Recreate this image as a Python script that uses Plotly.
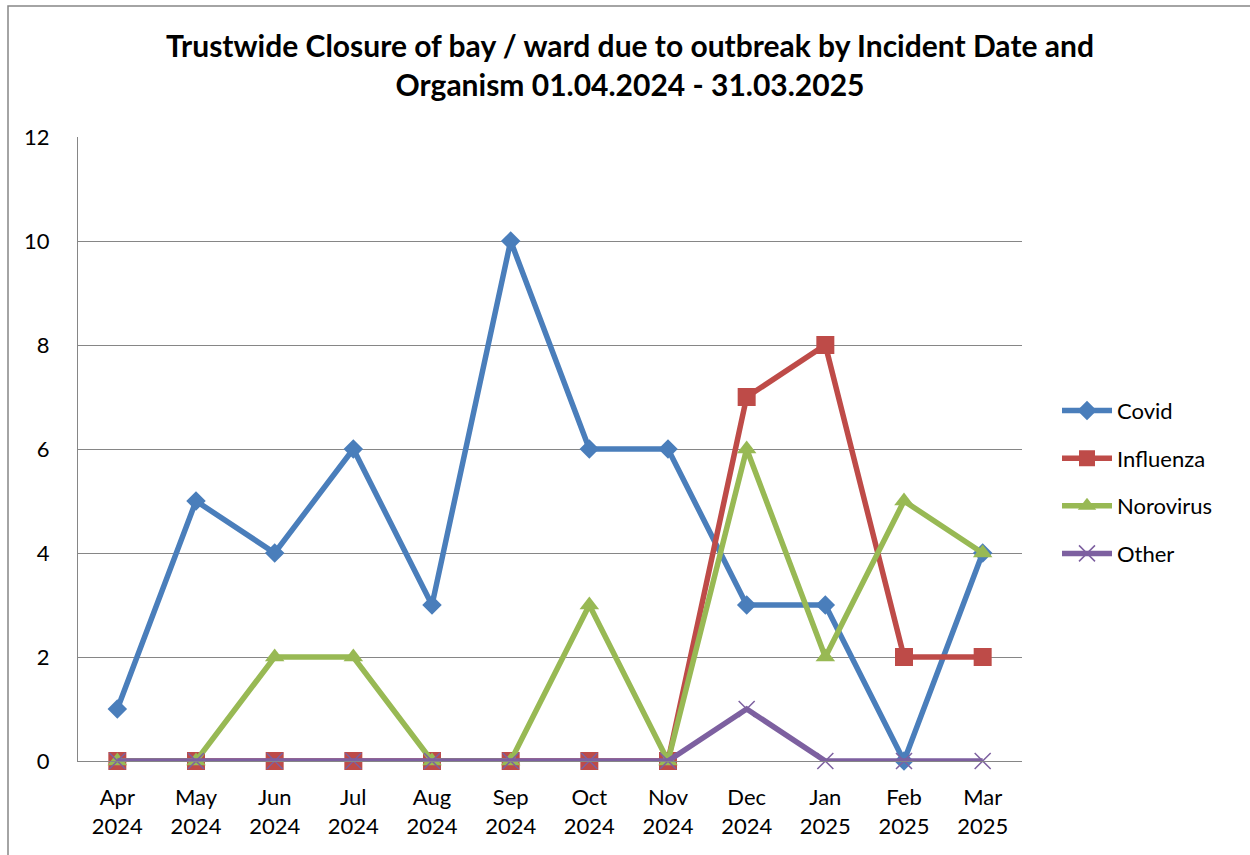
import plotly.graph_objects as go

months = ["Apr<br>2024", "May<br>2024", "Jun<br>2024", "Jul<br>2024", "Aug<br>2024", "Sep<br>2024",
          "Oct<br>2024", "Nov<br>2024", "Dec<br>2024", "Jan<br>2025", "Feb<br>2025", "Mar<br>2025"]
covid = [1, 5, 4, 6, 3, 10, 6, 6, 3, 3, 0, 4]
influenza = [0, 0, 0, 0, 0, 0, 0, 0, 7, 8, 2, 2]
norovirus = [0, 0, 2, 2, 0, 0, 3, 0, 6, 2, 5, 4]
other = [0, 0, 0, 0, 0, 0, 0, 0, 1, 0, 0, 0]

series = [
    ("Covid", covid, "#4a7ebb", dict(symbol="diamond", size=15)),
    ("Influenza", influenza, "#be4b48", dict(symbol="square", size=18)),
    ("Norovirus", norovirus, "#98b954", dict(symbol="triangle-up", size=17)),
    ("Other", other, "#7d60a0", dict(symbol="x-thin-open", size=16, line=dict(width=1.5, color="#7d60a0"))),
]

W, H = 1250, 855
L, R, T, B = 78, 1022, 137, 761

fig = go.Figure()
x = list(range(len(months)))
for i, (name, vals, col, mk) in enumerate(series):
    fig.add_trace(go.Scatter(x=x, y=vals, name=name, mode="lines+markers",
                             line=dict(color=col, width=5.5), marker=dict(color=col, **mk),
                             legendgroup=name, cliponaxis=False))

fig.update_layout(
    width=W, height=H,
    margin=dict(l=L, r=W - R, t=T, b=H - B, pad=0),
    paper_bgcolor="white", plot_bgcolor="white",
    font=dict(family="Lato, Open Sans, sans-serif", size=22, color="black"),
    title=dict(text="<b>Trustwide Closure of bay / ward due to outbreak by Incident Date and<br>Organism 01.04.2024 - 31.03.2025</b>",
               x=(630 - L) / (R - L), xanchor="center", xref="paper", y=1 - 57 / H, yanchor="middle",
               font=dict(size=30, family="Lato, Open Sans, sans-serif")),
    xaxis=dict(range=[-0.5, 11.5], tickmode="array", tickvals=x, ticktext=months,
               showgrid=False, showline=True, linecolor="#868686", linewidth=1,
               ticks="", zeroline=False, fixedrange=True, tickfont=dict(size=22),
               ticklabelstandoff=17),
    yaxis=dict(range=[0, 12], dtick=2, showgrid=True, gridcolor="#868686", gridwidth=1,
               showline=True, linecolor="#868686", linewidth=1, zeroline=False,
               ticks="", ticklabelstandoff=23, tickfont=dict(size=22)),
    legend=dict(x=(1057 - L) / (R - L), xanchor="left", y=(B - 411) / (B - T) + 0.034, yanchor="top",
                font=dict(size=22), tracegroupgap=16, bgcolor="rgba(0,0,0,0)",
                itemwidth=50),
    showlegend=True,
)

# outer chart border (extends beyond the visible canvas to right and bottom)
fig.add_shape(type="rect", xref="paper", yref="paper",
              x0=(8 - L) / (R - L), x1=(1260 - L) / (R - L),
              y0=(B - 870) / (B - T), y1=(B - 6) / (B - T),
              line=dict(color="#868686", width=1.5), fillcolor="rgba(0,0,0,0)", layer="below")

fig.write_html("out.html")
